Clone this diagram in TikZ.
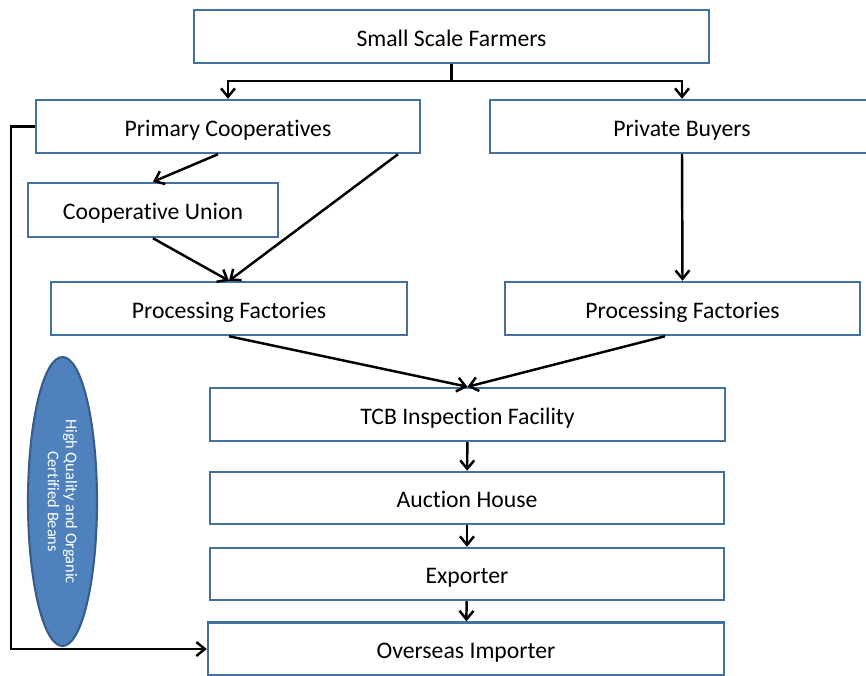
\documentclass[tikz,border=0pt]{standalone}
\usepackage{fontspec}
\setmainfont{Carlito}[RawFeature=-liga]
\usetikzlibrary{arrows.meta,shapes.geometric}
\definecolor{boxline}{HTML}{41719C}
\definecolor{ovalfill}{HTML}{4F81BD}
\definecolor{ovalline}{HTML}{385D8A}
\tikzset{
  box/.style={draw=boxline,line width=1.4pt,fill=white,minimum height=1.06cm,
    inner sep=0pt,text height=11pt,text depth=0pt,font=\fontsize{13.5}{16}\selectfont},
  oval/.style={ellipse,draw=ovalline,line width=1.2pt,fill=ovalfill,inner sep=0pt,
    minimum width=1.38cm,minimum height=5.78cm},
  flow/.style={line width=1.4pt,-{Straight Barb[length=1.7mm,width=2.8mm]}}
}
\begin{document}
\begin{tikzpicture}
  \useasboundingbox (0,0) rectangle (17.32,-13.5);

  \node[box,minimum width=10.3cm]  (farmers)   at (9.03,-0.73)  {Small Scale Farmers};
  \node[box,minimum width=7.68cm]  (primary)   at (4.56,-2.53)  {Primary Cooperatives};
  \node[box,minimum width=7.68cm]  (private)   at (13.64,-2.53) {Private Buyers};
  \node[box,minimum width=5.0cm,minimum height=1.08cm]
                                   (union)     at (3.06,-4.2)   {Cooperative Union};
  \node[box,minimum width=7.12cm]  (procleft)  at (4.58,-6.17)  {Processing Factories};
  \node[box,minimum width=7.1cm]   (procright) at (13.65,-6.17) {Processing Factories};
  \node[box,minimum width=10.3cm]  (tcb)       at (9.35,-8.29)  {TCB Inspection Facility};
  \node[box,minimum width=10.28cm,minimum height=1.04cm]
                                   (auction)   at (9.34,-9.96)  {Auction House};
  \node[box,minimum width=10.28cm,minimum height=1.04cm]
                                   (exporter)  at (9.34,-11.48) {Exporter};
  \node[box,minimum width=10.32cm] (importer)  at (9.32,-12.98) {Overseas Importer};

  \node[oval] (beans) at (1.25,-10.03) {};
  \node[rotate=-90,align=center,text=white,font=\fontsize{9.3}{10.2}\selectfont]
    (beanstext) at (beans.center) {High Quality and Organic\\Certified Beans};

  \draw[flow] (farmers.south) -- ++(0,-0.34) -| (primary.north);
  \draw[flow] (farmers.south) -- ++(0,-0.34) -| (private.north);
  \draw[flow] ([xshift=-0.2cm]primary.south) -- (union.north);
  \draw[flow] ([xshift=3.4cm]primary.south) -- (procleft.north);
  \draw[flow] (union.south) -- (procleft.north);
  \draw[flow] (private.south) -- (procright.north);
  \draw[flow] (procleft.south) -- (tcb.north);
  \draw[flow] ([xshift=-0.35cm]procright.south) -- (tcb.north);
  \draw[flow] (tcb) -- (auction);
  \draw[flow] (auction) -- (exporter);
  \draw[flow] (exporter) -- (importer);
  \draw[flow] (primary.west) -- ++(-0.48,0) |- (importer.west);
\end{tikzpicture}
\end{document}
